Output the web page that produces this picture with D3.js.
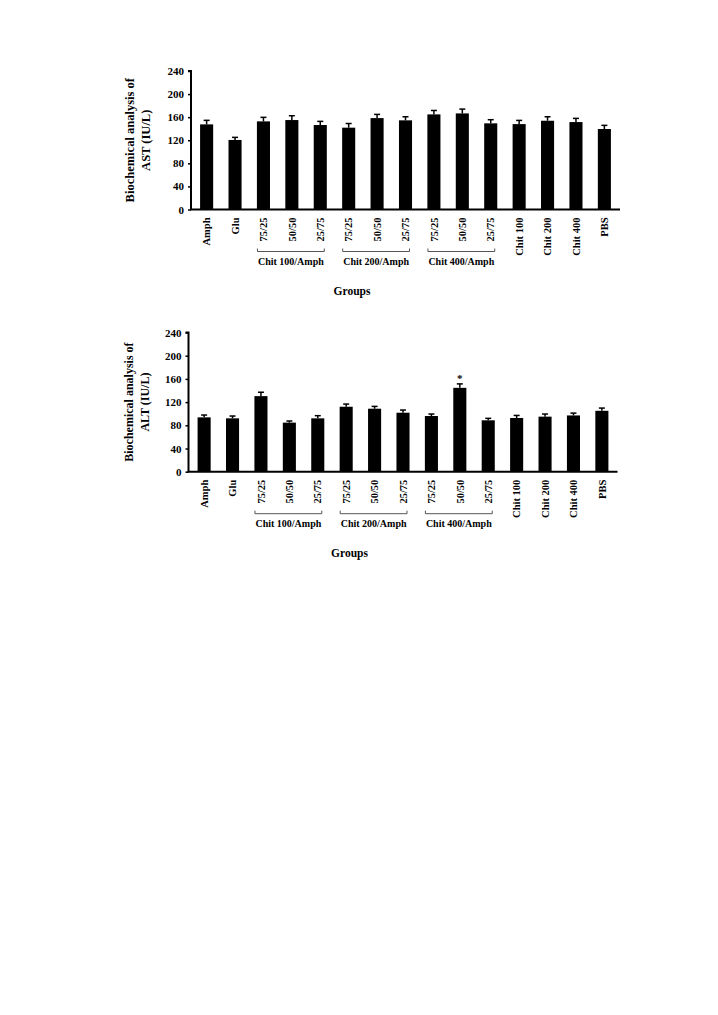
<!DOCTYPE html>
<html>
<head>
<meta charset="utf-8">
<script src="https://cdn.jsdelivr.net/npm/d3@7"></script>
<style>
  html, body { margin: 0; padding: 0; background: #fff; }
  svg { display: block; }
  text { font-family: "Liberation Serif", "Times New Roman", serif; font-weight: bold; fill: #000; }
</style>
</head>
<body>
<svg id="chart" width="718" height="1015"></svg>
<script>
// ---- data ----
const categories = ["Amph", "Glu", "75/25", "50/50", "25/75", "75/25", "50/50", "25/75",
                    "75/25", "50/50", "25/75", "Chit 100", "Chit 200", "Chit 400", "PBS"];
const astMean = [147.5, 120.5, 152.7, 155.0, 146.4, 141.8, 158.4, 154.5, 164.8, 166.5, 149.3, 148.0, 153.8, 151.5, 139.5];
const astErr  = [7.0, 4.5, 7.0, 7.5, 6.3, 7.2, 6.4, 6.2, 6.8, 7.5, 6.3, 6.4, 6.9, 6.4, 6.3];
const altMean = [93.7, 92.0, 130.3, 84.6, 92.0, 112.0, 108.6, 101.7, 96.0, 144.6, 88.6, 92.6, 94.9, 97.0, 105.0];
const altErr  = [4.0, 4.0, 6.7, 2.8, 4.6, 4.6, 4.0, 4.6, 3.4, 6.8, 3.4, 4.4, 4.5, 4.0, 4.7];
const altSignificant = [9];
const yTicks = [0, 40, 80, 120, 160, 200, 240];
const groupLabels = ["Chit 100/Amph", "Chit 200/Amph", "Chit 400/Amph"];
const groupFrom = [2, 5, 8];
const groupTo = [4, 7, 10];
const xTitle = "Groups";
const astTitle = ["Biochemical analysis of", "AST (IU/L)"];
const altTitle = ["Biochemical analysis of", "ALT (IU/L)"];

const svg = d3.select("#chart");

function drawChart(opt) {
  const g = svg.append("g");
  const x = d3.scaleBand()
    .domain(d3.range(categories.length))
    .range([opt.x0, opt.x1])
    .paddingInner(0.54)
    .paddingOuter(0.32);
  const y = d3.scaleLinear().domain([0, 240]).range([opt.y0, opt.y1]);

  // bars
  g.selectAll("rect.bar").data(opt.mean).join("rect")
    .attr("class", "bar")
    .attr("x", (d, i) => x(i))
    .attr("width", x.bandwidth())
    .attr("y", d => y(d))
    .attr("height", d => y(0) - y(d))
    .attr("fill", "#000");

  // error bars (upper only)
  const cx = i => x(i) + x.bandwidth() / 2;
  g.selectAll("line.err").data(opt.mean).join("line")
    .attr("class", "err")
    .attr("x1", (d, i) => cx(i)).attr("x2", (d, i) => cx(i))
    .attr("y1", d => y(d)).attr("y2", (d, i) => y(d + opt.err[i]))
    .attr("stroke", "#000").attr("stroke-width", 1.5);
  g.selectAll("line.cap").data(opt.mean).join("line")
    .attr("class", "cap")
    .attr("x1", (d, i) => cx(i) - 3).attr("x2", (d, i) => cx(i) + 3)
    .attr("y1", (d, i) => y(d + opt.err[i])).attr("y2", (d, i) => y(d + opt.err[i]))
    .attr("stroke", "#000").attr("stroke-width", 1.5);

  // significance stars
  (opt.sig || []).forEach(i => {
    g.append("text")
      .attr("x", cx(i))
      .attr("y", y(opt.mean[i] + opt.err[i]) - 2)
      .attr("text-anchor", "middle")
      .attr("font-size", 11)
      .text("*");
  });

  // y axis
  const ya = g.append("g")
    .attr("transform", `translate(${opt.x0},0)`)
    .call(d3.axisLeft(y).tickValues(yTicks).tickSize(3).tickPadding(4));
  ya.select(".domain").attr("stroke-width", 2).attr("d", `M-3,${opt.y1}H0V${opt.y0}`);
  ya.selectAll(".tick line").attr("stroke-width", 1.5);
  ya.selectAll(".tick text")
    .attr("font-size", 11)
    .attr("font-family", "Liberation Serif, Times New Roman, serif")
    .attr("font-weight", "bold");

  // x axis line
  g.append("line")
    .attr("x1", opt.x0 - 1).attr("x2", opt.x1)
    .attr("y1", opt.y0).attr("y2", opt.y0)
    .attr("stroke", "#000").attr("stroke-width", 2);

  // x tick labels (rotated)
  g.selectAll("text.xl").data(categories).join("text")
    .attr("class", "xl")
    .attr("transform", (d, i) => `translate(${cx(i) + 3.7},${opt.y0 + 8}) rotate(-90)`)
    .attr("text-anchor", "end")
    .attr("font-size", 10.5)
    .text(d => d);

  // group brackets
  groupLabels.forEach((lab, k) => {
    const xa = cx(groupFrom[k]) - 6;
    const xb = cx(groupTo[k]) + 4;
    const by = opt.y0 + 42;
    g.append("path")
      .attr("d", `M${xa},${by - 3}V${by}H${xb}V${by - 3}`)
      .attr("fill", "none").attr("stroke", "#555").attr("stroke-width", 1);
    g.append("text")
      .attr("x", (xa + xb) / 2)
      .attr("y", by + 13)
      .attr("text-anchor", "middle")
      .attr("font-size", 10)
      .text(lab);
  });

  // x title
  g.append("text")
    .attr("x", opt.xTitleX).attr("y", opt.xTitleY)
    .attr("text-anchor", "middle")
    .attr("font-size", 11.5)
    .text(xTitle);

  // y title (two lines)
  opt.title.forEach((t, j) => {
    g.append("text")
      .attr("transform", `translate(${opt.yTitleX + j * 16},${(opt.y0 + opt.y1) / 2}) rotate(-90)`)
      .attr("text-anchor", "middle")
      .attr("dy", "0.35em")
      .attr("font-size", opt.titleSize)
      .text(t);
  });
}

drawChart({
  mean: astMean, err: astErr, sig: [],
  x0: 191, x1: 620, y0: 209.5, y1: 71,
  title: astTitle, titleSize: 12.5, yTitleX: 130, xTitleX: 352, xTitleY: 295
});

drawChart({
  mean: altMean, err: altErr, sig: altSignificant,
  x0: 188.5, x1: 617.5, y0: 471.7, y1: 332.5,
  title: altTitle, titleSize: 12, yTitleX: 128.5, xTitleX: 349.5, xTitleY: 557
});
</script>
</body>
</html>
